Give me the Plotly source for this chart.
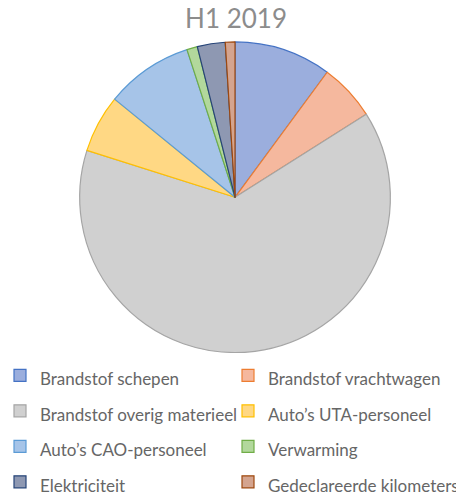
import plotly.graph_objects as go

labels = ["Brandstof schepen", "Brandstof vrachtwagen", "Brandstof overig materieel",
          "Auto’s UTA-personeel", "Auto’s CAO-personeel", "Verwarming",
          "Elektriciteit", "Gedeclareerde kilometers"]
values = [10.1, 5.9, 63.8, 6.0, 9.1, 1.1, 2.9, 1.0]
fill_colors = ["#9BAEDD", "#F5B89E", "#D0D0D0", "#FFD884",
               "#A6C4E8", "#B2D89C", "#8E98B2", "#D4A48F"]
line_colors = ["#4472C4", "#ED7D31", "#A5A5A5", "#FFC000",
               "#5B9BD5", "#70AD47", "#264478", "#9E480E"]

legend_text = ["<span style='font-size:17px'>%s</span>" % l for l in labels]

fig = go.Figure(go.Pie(
    labels=legend_text,
    values=values,
    sort=False,
    direction="clockwise",
    rotation=0,
    textinfo="none",
    hoverinfo="label+percent",
    marker=dict(colors=fill_colors, line=dict(color=line_colors, width=1.2)),
    domain=dict(x=[0.1714, 0.8482], y=[0.0, 0.881]),
))

fig.update_layout(
    width=461, height=494,
    margin=dict(l=0, r=0, t=0, b=0),
    paper_bgcolor="white",
    font=dict(family="Lato", color="#666666"),
    title=dict(text="H1 2019", x=0.512, xanchor="center", y=0.962, yanchor="middle",
               font=dict(family="Lato", size=26, color="#8C8C8C")),
    legend=dict(orientation="h", x=0.0, xanchor="left", xref="paper",
                y=0.2862, yanchor="top", yref="container",
                entrywidth=183, entrywidthmode="pixels",
                font=dict(family="Lato", size=25, color="#666666"),
                traceorder="normal"),
)

fig.write_html("out.html", config={"displayModeBar": False},
               post_script="document.body.style.margin='0px';")
